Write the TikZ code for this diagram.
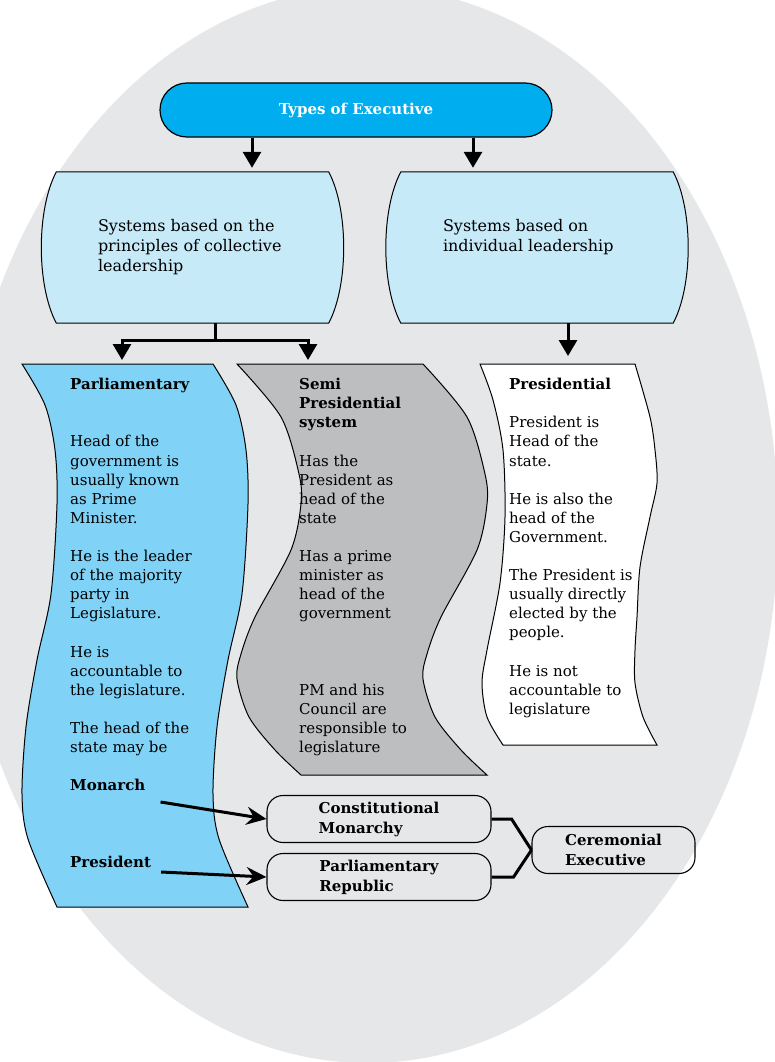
\documentclass[tikz,border=0pt]{standalone}
\usepackage{fontspec}
\setmainfont{DejaVu Serif}
\usetikzlibrary{positioning,arrows.meta,backgrounds}

\definecolor{ovalgray}{RGB}{230,231,232}
\definecolor{execblue}{RGB}{0,174,239}
\definecolor{systemblue}{RGB}{199,234,249}
\definecolor{parlblue}{RGB}{128,211,247}
\definecolor{semigray}{RGB}{188,190,192}

\tikzstyle{headbox} = [draw=black, fill=execblue, line width=1.2pt, rectangle,
    rounded corners=27pt, minimum width=392pt, minimum height=54pt,
    text=white, font=\fontsize{15}{18}\selectfont\bfseries]
\tikzstyle{sysbox} = [rectangle, minimum width=272pt, minimum height=151pt, inner sep=0pt]
\tikzstyle{boxtext} = [anchor=north west, align=left, inner sep=0pt,
    font=\fontsize{16}{20}\selectfont]
\tikzstyle{bodytext} = [anchor=north west, align=left, inner sep=0pt,
    font=\fontsize{15}{19.1}\selectfont]
\tikzstyle{boldtext} = [anchor=base west, inner sep=0pt,
    font=\fontsize{15}{19.1}\selectfont\bfseries]
\tikzstyle{smallbox} = [draw=black, line width=1.1pt, rectangle, rounded corners=16pt,
    minimum width=224pt, minimum height=47pt, align=left,
    font=\fontsize{15}{20}\selectfont\bfseries]
\tikzstyle{banner} = [draw=black, line width=1pt]
\tikzstyle{fatarrow} = [line width=3pt, -{Triangle[width=18pt,length=16pt]}]
\tikzstyle{fatline} = [line width=3pt]
\tikzstyle{labelarrow} = [line width=3pt, -{Stealth[length=20pt,width=18pt,inset=7pt]}]

\begin{document}
\begin{tikzpicture}[x=1pt,y=-1pt]
\useasboundingbox (0,0) rectangle (775,1062);
\begin{scope}[on background layer]
\fill[white] (0,0) rectangle (775,1062);
\fill[ovalgray] (368,525) ellipse (410pt and 538pt);
\end{scope}

% top of the chart
\node[headbox] (exec) at (356,110) {Types of Executive};
\node[sysbox] (collective) at (192.5,247.5) {};
\node[sysbox] (individual) at (537,247.5) {};
\begin{scope}[on background layer]
\foreach \sys in {collective,individual}
  \filldraw[draw=black, line width=1pt, fill=systemblue] (\sys.north west) -- (\sys.north east)
    .. controls +(20,38) and +(20,-38) .. (\sys.south east) -- (\sys.south west)
    .. controls +(-20,-38) and +(-20,38) .. (\sys.north west) -- cycle;
\end{scope}
\node[boxtext] (collectivetext) at ([xshift=41.5pt,yshift=-47pt]collective.north west)
  {Systems based on the\\ principles of collective\\ leadership};
\node[boxtext] (individualtext) at ([xshift=42pt,yshift=-47pt]individual.north west)
  {Systems based on\\ individual leadership};

% the three banners
\filldraw[banner, fill=parlblue, shift={(22,364)}]
  plot[smooth] coordinates {(0,0) (23,41) (33,86) (35,140) (29,230) (15,296) (4,363) (0,430) (6,475) (35,543)}
  -- plot[smooth] coordinates {(226,543) (197,475) (191,430) (195,363) (206,296) (220,230) (226,140) (224,86) (214,41) (191,0)}
  -- cycle;
\filldraw[banner, fill=semigray, shift={(237,364)}]
  plot[smooth] coordinates {(0,0) (44,53) (62,110) (64,140) (54,186) (18,253) (4,290) (0,315) (12,353) (38,386) (64,411)}
  -- plot[smooth] coordinates {(250,411) (224,386) (198,353) (186,315) (190,290) (204,253) (240,186) (250,140) (248,110) (230,53) (186,0)}
  -- cycle;
\filldraw[banner, fill=white, shift={(480,364)}]
  plot[smooth] coordinates {(0,0) (13,36) (23,86) (25,153) (20,219) (7,286) (2,319) (7,353) (23,381)}
  -- plot[smooth] coordinates {(177,381) (163,353) (155,319) (155,286) (157,253) (160,203) (170,153) (177,119) (175,86) (170,53) (155,0)}
  -- cycle;
\coordinate (parltop) at (122,364);
\coordinate (semitop) at (308,364);
\coordinate (prestop) at (568,364);

\node[bodytext] (parl) at (70,378) {\textbf{Parliamentary}\\[38.2pt]
  Head of the\\ government is\\ usually known\\ as Prime\\ Minister.\\[19.1pt]
  He is the leader\\ of the majority\\ party in\\ Legislature.\\[19.1pt]
  He is\\ accountable to\\ the legislature.\\[19.1pt]
  The head of the\\ state may be};
\node[bodytext] (semi) at (299,378) {\textbf{Semi}\\ \textbf{Presidential}\\ \textbf{system}\\[19.1pt]
  Has the\\ President as\\ head of the\\ state\\[19.1pt]
  Has a prime\\ minister as\\ head of the\\ government\\[57.3pt]
  PM and his\\ Council are\\ responsible to\\ legislature};
\node[bodytext] (pres) at (509,378) {\textbf{Presidential}\\[19.1pt]
  President is\\ Head of the\\ state.\\[19.1pt]
  He is also the\\ head of the\\ Government.\\[19.1pt]
  The President is\\ usually directly\\ elected by the\\ people.\\[19.1pt]
  He is not\\ accountable to\\ legislature};
\node[boldtext] (monarch) at (70,790) {Monarch};
\node[boldtext] (president) at (70,867) {President};

% ceremonial heads
\node[smallbox] (constmon) at (379,819) {Constitutional\\ Monarchy};
\node[smallbox] (parlrep) at (379,877) {Parliamentary\\ Republic};
\node[smallbox, minimum width=163pt] (ceremonial) at (613.5,850) {Ceremonial\\ Executive};

% connectors
\draw[fatarrow, shorten >=4pt] ([xshift=-104pt]exec.south) -- ([xshift=-104pt]exec.south |- collective.north);
\draw[fatarrow, shorten >=4pt] ([xshift=117pt]exec.south) -- ([xshift=117pt]exec.south |- individual.north);
\draw[fatline] ([xshift=22.5pt]collective.south) -- ++(0,17) coordinate (split);
\draw[fatarrow, shorten >=4pt] (split) -| (parltop);
\draw[fatarrow, shorten >=4pt] (split) -| (semitop);
\draw[fatarrow, shorten >=8pt] ([xshift=31pt]individual.south) -- (prestop);
\draw[labelarrow] ([shift={(15pt,-12pt)}]monarch.base east) -- (constmon.west);
\draw[labelarrow] ([shift={(10pt,-5pt)}]president.base east) -- (parlrep.west);
\draw[fatline] (constmon.east) -- ++(20,0) -- (ceremonial.west);
\draw[fatline] (parlrep.east) -- ++(22,0) -- (ceremonial.west);
\end{tikzpicture}
\end{document}
